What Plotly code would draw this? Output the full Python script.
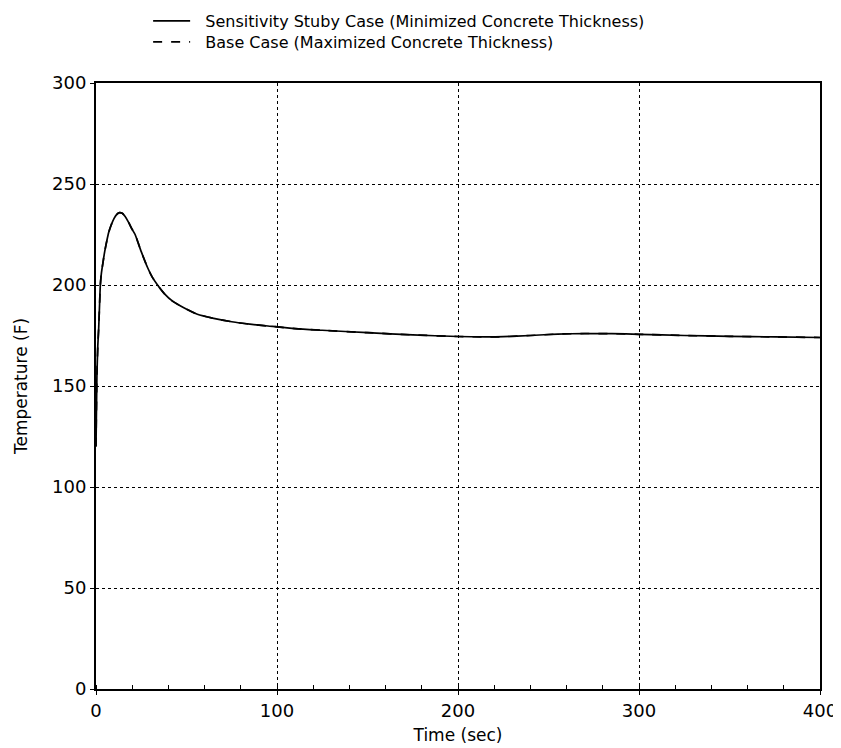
import plotly.graph_objects as go

# Time (sec) and temperature (F)
time_s = [0, 0.5, 1, 1.5, 2, 2.4, 3, 4, 4.8, 6, 7, 8.4, 10, 11.5, 13, 14.5, 16, 18,
          20, 21.6, 25, 28.6, 31, 34, 38, 42.3, 48, 56, 65, 75, 85, 95, 110, 125,
          150, 175, 200, 215, 225, 240, 255, 270, 285, 300, 325, 350, 375, 400]
temp_sens = [120, 155, 170, 179, 191, 200, 206, 212, 216.5, 222, 226, 229.7, 233,
             235, 235.8, 235.5, 234, 231, 227.5, 225, 216.5, 208.4, 204, 200, 195.5,
             192, 189, 185.5, 183.5, 181.8, 180.6, 179.7, 178.4, 177.6, 176.4, 175.3,
             174.5, 174.3, 174.4, 175, 175.7, 176, 175.9, 175.6, 175, 174.6, 174.3, 174]
temp_base = temp_sens

x_ticks = [0, 100, 200, 300, 400]
y_ticks = [0, 50, 100, 150, 200, 250, 300]

FONT = "DejaVu Sans, Arial, Helvetica, sans-serif"
NB = "\u00a0\u00a0"

fig = go.Figure()
fig.add_trace(go.Scatter(x=time_s, y=temp_sens, mode="lines",
                         name=NB + "Sensitivity Stuby Case (Minimized Concrete Thickness)",
                         line=dict(color="black", width=1.7, shape="spline", smoothing=0.6),
                         legend="legend"))
fig.add_trace(go.Scatter(x=time_s, y=temp_base, mode="lines",
                         name=NB + "Base Case (Maximized Concrete Thickness)",
                         line=dict(color="black", width=1.7, dash="dash", shape="spline",
                                   smoothing=0.6),
                         legend="legend2"))

axis_common = dict(showline=True, linecolor="black", linewidth=2, mirror=True,
                   showgrid=True, gridcolor="black", griddash="dot", gridwidth=1,
                   zeroline=False, ticks="outside", ticklen=4, tickcolor="black",
                   tickfont=dict(family=FONT, size=18, color="black"))

fig.update_xaxes(range=[0, 400], tickvals=x_ticks,
                 title=dict(text="Time (sec)", font=dict(family=FONT, size=17, color="black"),
                            standoff=10),
                 minor=dict(dtick=20, ticks="inside", ticklen=4, tickcolor="black",
                            showgrid=False),
                 **axis_common)
fig.update_yaxes(range=[0, 300], tickvals=y_ticks,
                 title=dict(text="Temperature (F)", font=dict(family=FONT, size=17, color="black"),
                            standoff=20),
                 **axis_common)

legend_common = dict(x=0.072, xanchor="left", yanchor="middle", yref="container",
                     bgcolor="rgba(0,0,0,0)", itemwidth=37,
                     font=dict(family=FONT, size=16, color="black"))

fig.update_layout(
    width=841, height=748,
    margin=dict(l=88, r=25, t=75, b=67),
    plot_bgcolor="white", paper_bgcolor="white",
    font=dict(family=FONT, size=17, color="black"),
    showlegend=True,
    legend=dict(y=1 - 13 / 748, **legend_common),
    legend2=dict(y=1 - 34 / 748, **legend_common),
)

fig.write_html("out.html")
